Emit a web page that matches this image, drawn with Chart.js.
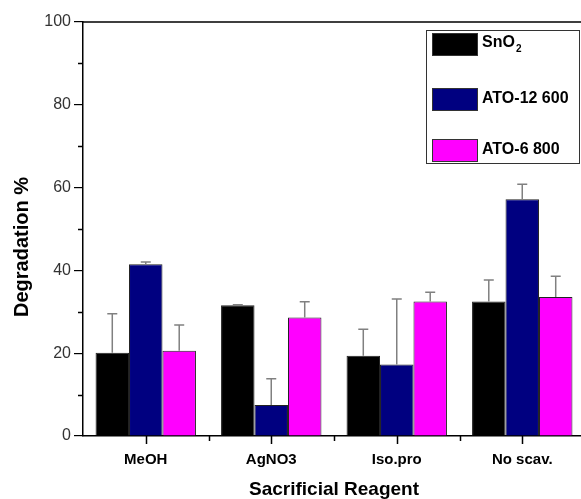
<!DOCTYPE html>
<html>
<head>
<meta charset="utf-8">
<script src="https://cdn.jsdelivr.net/npm/chart.js@4"></script>
<style>
  html, body { margin: 0; padding: 0; background: #fff; overflow: hidden; }
  #wrap { width: 600px; height: 499px; }
</style>
</head>
<body>
<div id="wrap"><canvas id="degChart" width="600" height="499"></canvas></div>
<script>
const categories = ["MeOH", "AgNO3", "Iso.pro", "No scav."];
const seriesNames = ["SnO2", "ATO-12 600", "ATO-6 800"];
const sno2 = [20.1, 31.6, 19.4, 32.5];
const ato12 = [41.5, 7.5, 17.3, 57.2];
const ato6 = [20.6, 28.6, 32.5, 33.6];
// upper error (plus side only)
const sno2Err = [9.4, 0.1, 6.4, 5.2];
const ato12Err = [0.5, 6.3, 15.8, 3.6];
const ato6Err = [6.2, 3.8, 2.2, 5.0];
const yTicks = [0, 20, 40, 60, 80, 100];
const yMinorTicks = [10, 30, 50, 70, 90];

const colors = ["#000000", "#000080", "#ff00ff"];
const FONT = "'Liberation Sans', Arial, sans-serif";

// error bars, drawn from the bar elements
const errorBars = {
  id: "errorBars",
  afterDatasetsDraw(chart) {
    const ctx = chart.ctx;
    const y = chart.scales.y;
    ctx.save();
    ctx.strokeStyle = "#808080";
    ctx.lineWidth = 1.5;
    chart.data.datasets.forEach((ds, i) => {
      const meta = chart.getDatasetMeta(i);
      meta.data.forEach((bar, j) => {
        const top = y.getPixelForValue(ds.data[j] + ds.errPlus[j]);
        ctx.beginPath();
        ctx.moveTo(bar.x, bar.y);
        ctx.lineTo(bar.x, top);
        ctx.moveTo(bar.x - 5, top);
        ctx.lineTo(bar.x + 5, top);
        ctx.stroke();
      });
    });
    ctx.restore();
  }
};

// frame, ticks, titles, legend
const decor = {
  id: "decor",
  afterDraw(chart) {
    const ctx = chart.ctx;
    const a = chart.chartArea;
    const x = chart.scales.x, y = chart.scales.y;
    ctx.save();
    ctx.strokeStyle = "#000";
    ctx.lineWidth = 1.5;
    ctx.beginPath();
    ctx.moveTo(a.left, a.top);
    ctx.lineTo(a.right, a.top);
    ctx.lineTo(a.right, a.bottom);
    ctx.stroke();

    ctx.lineWidth = 1.5;
    ctx.beginPath();
    yMinorTicks.forEach(v => {
      const py = Math.round(y.getPixelForValue(v)) + 0.5;
      ctx.moveTo(a.left - 5, py);
      ctx.lineTo(a.left, py);
    });
    categories.forEach((c, k) => {
      const px = Math.round(x.getPixelForValue(k)) + 0.5;
      ctx.moveTo(px, a.bottom);
      ctx.lineTo(px, a.bottom + 8);
      if (k > 0) {
        const mx = Math.round((x.getPixelForValue(k - 1) + x.getPixelForValue(k)) / 2) + 0.5;
        ctx.moveTo(mx, a.bottom);
        ctx.lineTo(mx, a.bottom + 5);
      }
    });
    ctx.stroke();

    // axis titles
    ctx.fillStyle = "#000";
    ctx.font = "bold 19px " + FONT;
    ctx.textAlign = "center";
    ctx.textBaseline = "alphabetic";
    ctx.fillText("Sacrificial Reagent", (a.left + a.right) / 2, 495);
    ctx.font = "bold 20px " + FONT;
    ctx.textBaseline = "middle";
    ctx.translate(22, 247);
    ctx.rotate(-Math.PI / 2);
    ctx.fillText("Degradation %", 0, 0);
    ctx.restore();

    // legend
    ctx.save();
    ctx.fillStyle = "#fff";
    ctx.fillRect(426, 30, 154, 134);
    ctx.strokeStyle = "#333";
    ctx.lineWidth = 1;
    ctx.strokeRect(426.5, 30.5, 153, 133);
    const rows = [33, 88, 139];
    chart.data.datasets.forEach((ds, i) => {
      ctx.fillStyle = ds.backgroundColor;
      ctx.fillRect(432, rows[i], 46, 23);
      ctx.strokeStyle = "#333";
      ctx.strokeRect(432.5, rows[i] + 0.5, 45, 22);
      ctx.fillStyle = "#000";
      ctx.font = "bold 16px " + FONT;
      ctx.textAlign = "left";
      ctx.textBaseline = "middle";
      const label = ds.label;
      if (label === "SnO2") {
        ctx.fillText("SnO", 482, rows[i] + 10);
        const w = ctx.measureText("SnO").width;
        ctx.font = "bold 10px " + FONT;
        ctx.fillText("2", 482 + w + 1, rows[i] + 16);
      } else {
        ctx.fillText(label, 482, rows[i] + 11);
      }
    });
    ctx.restore();
  }
};

const allValues = [sno2, ato12, ato6];
const allErr = [sno2Err, ato12Err, ato6Err];

new Chart(document.getElementById("degChart"), {
  type: "bar",
  data: {
    labels: categories,
    datasets: seriesNames.map((name, i) => ({
      label: name,
      data: allValues[i],
      errPlus: allErr[i],
      backgroundColor: colors[i],
      borderColor: "#222",
      borderWidth: 1,
      borderSkipped: "bottom",
      categoryPercentage: 0.8,
      barPercentage: 1.0
    }))
  },
  options: {
    responsive: false,
    animation: false,
    layout: { padding: { top: 22, right: 15, left: 0, bottom: 0 } },
    plugins: { legend: { display: false }, tooltip: { enabled: false } },
    scales: {
      x: {
        grid: { display: false, tickLength: 8 },
        border: { display: true, color: "#000", width: 1.5 },
        ticks: { color: "#000", font: { family: FONT, size: 15, weight: "bold" }, padding: 7 },
        afterFit(s) { s.height = 63; }
      },
      y: {
        min: 0, max: 100,
        afterBuildTicks(s) { s.ticks = yTicks.map(v => ({ value: v })); },
        grid: { display: true, drawOnChartArea: false, tickLength: 9, color: "#000", lineWidth: 1.2 },
        border: { display: true, color: "#000", width: 1.5 },
        ticks: { color: "#333", font: { family: FONT, size: 16 }, padding: 3 },
        afterFit(s) { s.width = 83; }
      }
    }
  },
  plugins: [errorBars, decor]
});
</script>
</body>
</html>
